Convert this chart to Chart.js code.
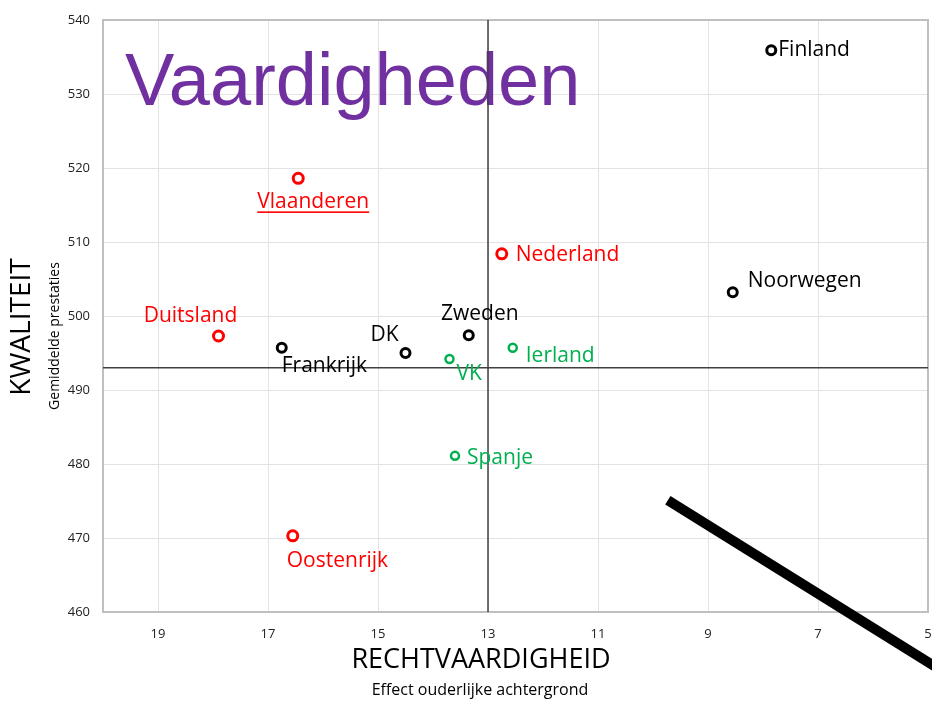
<!DOCTYPE html>
<html>
<head>
<meta charset="utf-8">
<script src="https://cdn.jsdelivr.net/npm/chart.js@4/dist/chart.umd.min.js"></script>
<style>
  body { margin: 0; background: #fff; }
  #wrap { width: 932px; height: 705px; }
</style>
</head>
<body>
<div id="wrap"><canvas id="chart"></canvas></div>
<script>
// data
const landen = ['Finland', 'Noorwegen', 'Nederland', 'Zweden', 'Ierland', 'VK', 'DK', 'Frankrijk', 'Duitsland', 'Vlaanderen', 'Spanje', 'Oostenrijk'];
const rechtvaardigheid = [7.85, 8.55, 12.75, 13.35, 12.55, 13.7, 14.5, 16.75, 17.9, 16.45, 13.6, 16.55];
const kwaliteit = [535.9, 503.2, 508.4, 497.4, 495.7, 494.2, 495.0, 495.7, 497.3, 518.6, 481.1, 470.3];
const groep = ['zwart', 'zwart', 'rood', 'zwart', 'groen', 'groen', 'zwart', 'zwart', 'rood', 'rood', 'groen', 'rood'];

const xTicks = [19, 17, 15, 13, 11, 9, 7, 5];
const yTicks = [460, 470, 480, 490, 500, 510, 520, 530, 540];
const kruisX = 13;
const kruisY = 493;
const pijlX = [9.73, 4.78];
const pijlY = [475.1, 452.2];

// styling
const kleuren = { zwart: '#000000', rood: '#ff0000', groen: '#00b050' };
const straal = { zwart: 4.5, rood: 5, groen: 4 };
const rand = { zwart: 3, rood: 3, groen: 2.5 };
// label offset in px from the point: [dx, dy, align]
const labelPos = {
  Finland: [7, 0, 'left'], Noorwegen: [15, -11, 'left'], Nederland: [14, 1, 'left'],
  Zweden: [11, -21, 'center'], Ierland: [13, 8, 'left'], VK: [7, 15, 'left'],
  DK: [-7, -18, 'right'], Frankrijk: [0, 18, 'left'], Duitsland: [-28, -20, 'center'],
  Vlaanderen: [15, 24, 'center'], Spanje: [12, 2, 'left'], Oostenrijk: [-6, 25, 'left']
};
const onderstreept = ['Vlaanderen'];

const fam = '"Open Sans", "Noto Sans", sans-serif';

const puntSets = ['zwart', 'rood', 'groen'].map(g => {
  let idx = landen.map((l, i) => i).filter(i => groep[i] === g);
  return {
    label: g,
    data: idx.map(i => ({ x: rechtvaardigheid[i], y: kwaliteit[i], naam: landen[i] })),
    showLine: false,
    pointStyle: 'circle',
    pointRadius: straal[g],
    pointBorderWidth: rand[g],
    pointBackgroundColor: '#ffffff',
    pointBorderColor: kleuren[g],
    order: 1
  };
});

const lijnSet = (data, kleur, breedte, clip) => ({
  data: data, showLine: true, pointRadius: 0, borderColor: kleur, borderWidth: breedte,
  borderCapStyle: 'butt', clip: clip, order: 5
});

const kader = {
  id: 'kader',
  beforeDatasetsDraw(chart) {
    const { ctx, chartArea: a } = chart;
    ctx.save();
    ctx.strokeStyle = '#bfbfbf';
    ctx.lineWidth = 2;
    ctx.strokeRect(a.left, a.top, a.right - a.left, a.bottom - a.top);
    // big title inside the plot
    ctx.fillStyle = '#7030a0';
    ctx.font = '74px "Liberation Sans", Arial, sans-serif';
    ctx.textBaseline = 'alphabetic';
    ctx.textAlign = 'left';
    ctx.fillText('Vaardigheden', a.left + 22, a.top + 85);
    ctx.restore();
  },
  afterDatasetsDraw(chart) {
    const { ctx, chartArea: a } = chart;
    ctx.save();
    ctx.font = '21px ' + fam;
    ctx.textBaseline = 'middle';
    puntSets.forEach((ds, di) => {
      const meta = chart.getDatasetMeta(di);
      ds.data.forEach((d, j) => {
        const el = meta.data[j];
        const p = labelPos[d.naam];
        ctx.fillStyle = ds.pointBorderColor;
        ctx.textAlign = p[2];
        const tx = el.x + p[0], ty = el.y + p[1];
        ctx.fillText(d.naam, tx, ty);
        if (onderstreept.includes(d.naam)) {
          const w = ctx.measureText(d.naam).width;
          const x0 = p[2] === 'center' ? tx - w / 2 : (p[2] === 'right' ? tx - w : tx);
          ctx.fillRect(x0, ty + 9, w, 1.6);
        }
      });
    });
    // axis titles
    ctx.fillStyle = '#000';
    ctx.textAlign = 'center';
    ctx.textBaseline = 'alphabetic';
    ctx.font = '27px ' + fam;
    ctx.fillText('RECHTVAARDIGHEID', 481, 668);
    ctx.font = '16px ' + fam;
    ctx.fillText('Effect ouderlijke achtergrond', 480, 695);
    ctx.save();
    ctx.translate(22, 327);
    ctx.rotate(-Math.PI / 2);
    ctx.textBaseline = 'middle';
    ctx.font = '28px ' + fam;
    ctx.fillText('KWALITEIT', 0, 0);
    ctx.restore();
    ctx.save();
    ctx.translate(55, 336);
    ctx.rotate(-Math.PI / 2);
    ctx.textBaseline = 'middle';
    ctx.font = '14px ' + fam;
    ctx.fillText('Gemiddelde prestaties', 0, 0);
    ctx.restore();
    ctx.restore();
  }
};

new Chart(document.getElementById('chart'), {
  type: 'scatter',
  data: {
    datasets: [
      ...puntSets,
      lijnSet([{ x: kruisX, y: yTicks[0] }, { x: kruisX, y: yTicks[yTicks.length - 1] }], '#404040', 1.5, true),
      lijnSet([{ x: 20, y: kruisY }, { x: 5, y: kruisY }], '#404040', 1.5, true),
      lijnSet(pijlX.map((x, i) => ({ x: x, y: pijlY[i] })), '#000000', 10, false)
    ]
  },
  options: {
    responsive: true,
    maintainAspectRatio: false,
    animation: false,
    layout: { autoPadding: false, padding: { top: 20, right: 4, left: 0, bottom: 0 } },
    plugins: { legend: { display: false }, tooltip: { enabled: false } },
    scales: {
      x: {
        type: 'linear', min: 5, max: 20, reverse: true,
        afterBuildTicks: s => { s.ticks = xTicks.map(v => ({ value: v })); },
        afterFit: s => { s.height = 93; s.paddingLeft = 0; s.paddingRight = 0; },
        grid: { color: '#e3e3e3', lineWidth: 1, drawTicks: false },
        border: { display: false },
        ticks: { color: '#222', font: { family: fam, size: 13 }, padding: 14, maxRotation: 0 }
      },
      y: {
        type: 'linear', min: 460, max: 540,
        afterBuildTicks: s => { s.ticks = yTicks.map(v => ({ value: v })); },
        afterFit: s => { s.width = 103; s.paddingTop = 0; s.paddingBottom = 0; },
        grid: { color: '#e3e3e3', lineWidth: 1, drawTicks: false },
        border: { display: false },
        ticks: { color: '#222', font: { family: fam, size: 13 }, padding: 13 }
      }
    }
  },
  plugins: [kader]
});
</script>
</body>
</html>
